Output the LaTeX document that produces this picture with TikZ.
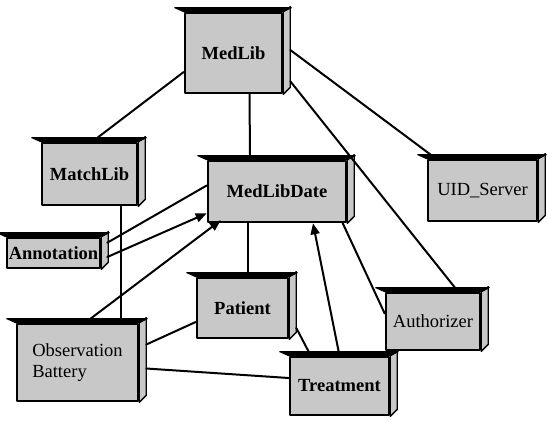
\documentclass[tikz,border=0pt]{standalone}
\usepackage{fontspec}
\setmainfont{Liberation Serif}
\usepackage{tikz}
\usetikzlibrary{arrows.meta,positioning,calc}

\definecolor{boxgray}{RGB}{200,200,200}

\tikzset{
    device/.style={draw,fill=boxgray,line width=2.6pt,rectangle,inner sep=0pt,
        font=\fontsize{18.5}{21.5}\selectfont\bfseries},
    light/.style={font=\fontsize{18.5}{21.5}\selectfont},
    link/.style={line width=2pt},
    dep/.style={line width=2pt,-{Triangle[length=11pt,width=9pt]}}
}

% side face and top lip of a device box
\newcommand{\drawDepth}[1]{
    \filldraw[fill=boxgray,line width=1.3pt,line join=round] (#1.north east) -- ++(7,-5) -- ($(#1.south east)+(7,-7)$) -- (#1.south east) -- cycle;
    \filldraw[line width=1pt] (#1.north west) -- ++(-9,-4) -- ($(#1.north east)+(8,-4)$) -- (#1.north east) -- cycle;
}

\begin{document}
\begin{tikzpicture}[x=1pt,y=-1pt,line cap=round,line join=round]

        \useasboundingbox (0,0) rectangle (547,421);

        % --- Devices ---
        \node[device,minimum width=97pt,minimum height=80pt] (medlib) at (233.5,53) {MedLib};
        \node[device,minimum width=95pt,minimum height=62pt] (matchlib) at (89.5,174) {MatchLib};
        \node[device,minimum width=93pt,minimum height=30pt] (annotation) at (53.5,253) {Annotation};
        \node[device,minimum width=138pt,minimum height=61pt] (medlibdate) at (277,191.5) {MedLibDate};
        \node[device,light,minimum width=109pt,minimum height=61pt] (uid_server) at (482.5,190.5) {UID\_Server};
        \node[device,light,minimum width=121pt,minimum height=77pt,align=left] (obs_battery) at (77.5,362.5) {Observation\\Battery};
        \node[device,minimum width=91pt,minimum height=60pt] (patient) at (242.5,308) {Patient};
        \node[device,minimum width=99pt,minimum height=58pt] (treatment) at (339.5,386) {Treatment};
        \node[device,light,minimum width=94pt,minimum height=57pt] (authorizer) at (433,321.5) {Authorizer};

        \drawDepth{medlib}
        \drawDepth{matchlib}
        \drawDepth{annotation}
        \drawDepth{medlibdate}
        \drawDepth{uid_server}
        \drawDepth{obs_battery}
        \drawDepth{patient}
        \drawDepth{treatment}
        \drawDepth{authorizer}

        % --- Links from MedLib ---
        \draw[link] ($(medlib.west)+(0,19)$) -- ($(matchlib.north)+(8,-4)$);
        \draw[link] ($(medlib.south)+(16,0)$) -- ($(medlibdate.north)+(-27,-4)$);
        \draw[link] ($(medlib.east)+(7,-3)$) -- ($(uid_server.north west)+(4,-4)$);
        \draw[link] ($(medlib.south east)+(7,-13)$) -- ($(authorizer.north)+(22,-4)$);

        % MatchLib down to the battery
        \draw[link] ($(matchlib.south)+(31,0)$) -- ($(obs_battery.north)+(43,-4)$);

        % --- Links into MedLibDate ---
        \draw[link] ($(annotation.north east)+(6,6)$) -- ($(medlibdate.west)+(0,-6)$);
        \draw[dep] ($(annotation.east)+(6,4)$) -- ($(medlibdate.south west)+(0,-10)$);
        \draw[dep] ($(obs_battery.north)+(13,-4)$) -- ($(medlibdate.south west)+(14,-3)$);
        \draw[dep] (treatment.north) -- ($(medlibdate.south)+(36,0)$);
        \draw[link] ($(medlibdate.south)+(-29,0)$) -- ($(patient.north)+(5.5,-4)$);
        \draw[link] ($(medlibdate.south east)+(-5,-1)$) -- ($(authorizer.west)+(0,-8)$);

        % --- Remaining links ---
        \draw[link] ($(patient.west)+(0,14)$) -- ($(obs_battery.east)+(7,-18)$);
        \draw[link] ($(patient.east)+(7,20)$) -- ($(treatment.north west)+(20,-4)$);
        \draw[link] ($(obs_battery.east)+(7,6)$) -- ($(treatment.west)+(0,-8)$);

    \end{tikzpicture}
\end{document}
